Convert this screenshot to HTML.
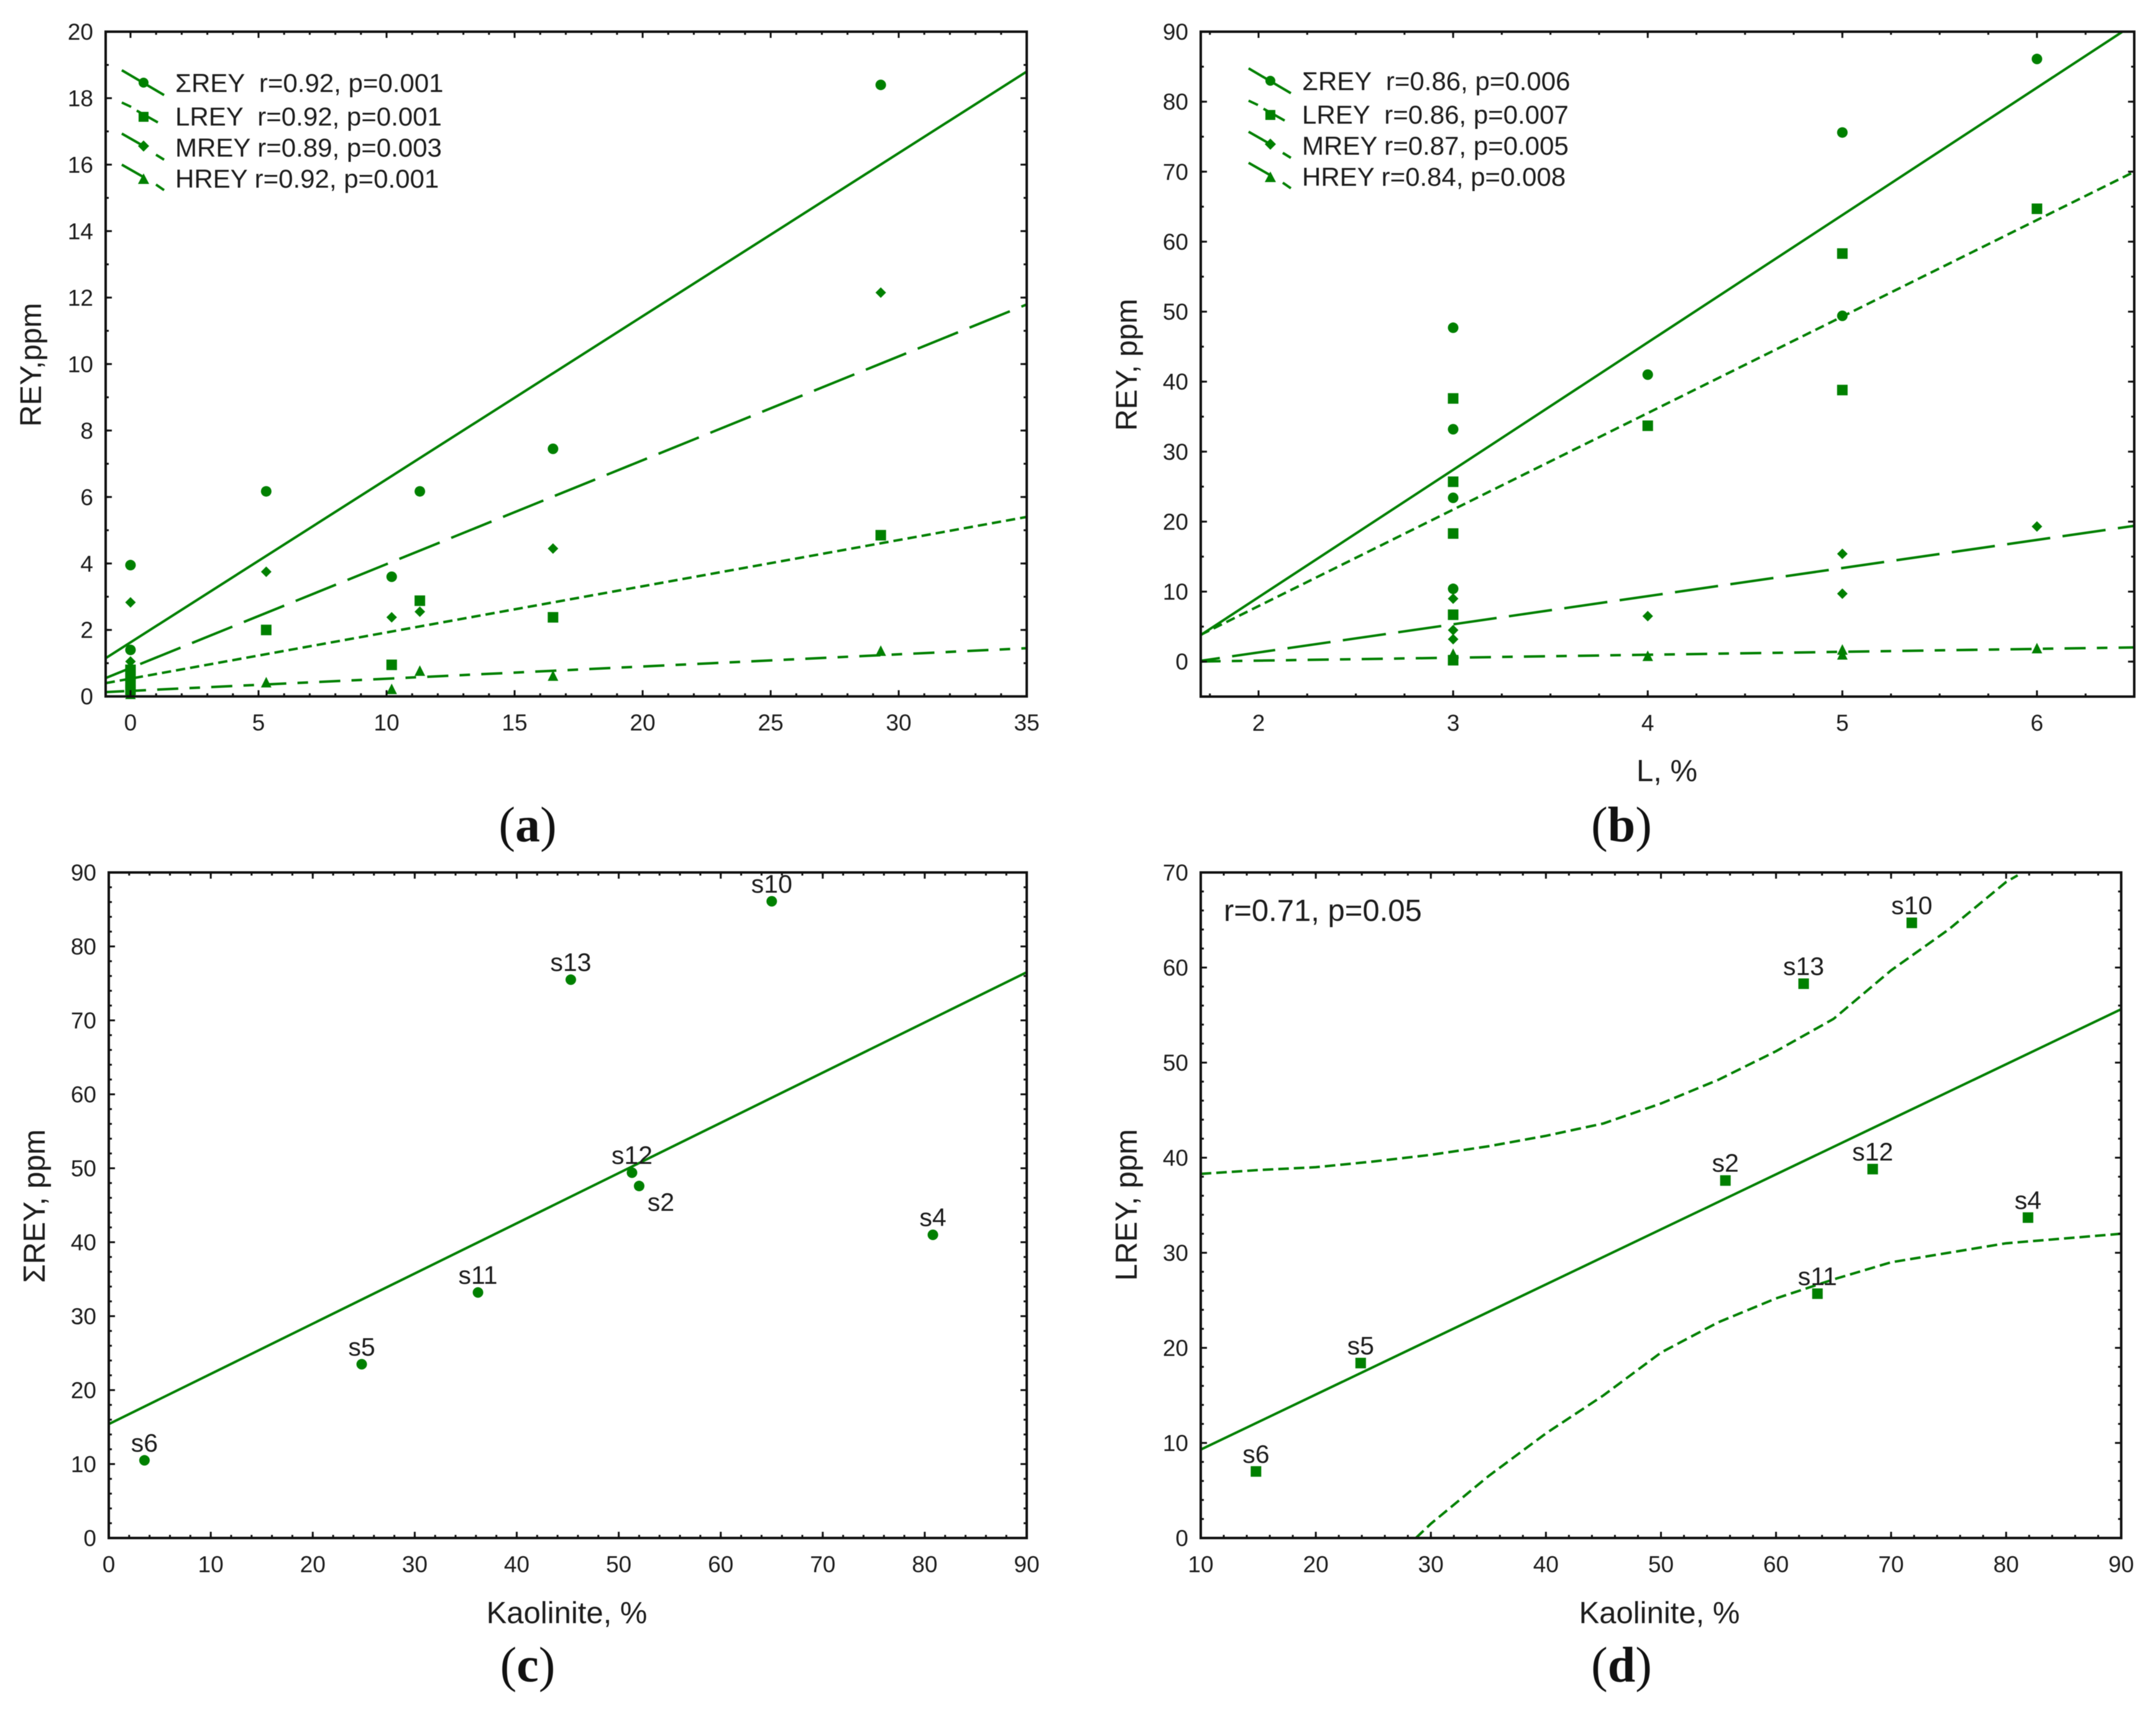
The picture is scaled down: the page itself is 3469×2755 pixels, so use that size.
<!DOCTYPE html>
<html lang="en">
<head>
<meta charset="utf-8">
<title>REY correlation charts</title>
<style>
html,body{margin:0;padding:0;background:#fff;width:3469px;height:2755px;overflow:hidden}
svg{display:block;filter:blur(0.6px)}
text{font-family:"Liberation Sans",sans-serif;fill:#1c1c1c;white-space:pre}
.tick{font-size:37px}
.title{font-size:49px}
.ytitle{font-size:48px}
.leg{font-size:42px}
.sample{font-size:41px}
.cap{font-family:"Liberation Serif",serif;font-size:80px;fill:#111;text-anchor:middle}
.cap .b{font-weight:bold}
.g{stroke:#008000;stroke-width:4;fill:none}
.m{fill:#008000;stroke:none}
</style>
</head>
<body>
<svg id="figure" xmlns="http://www.w3.org/2000/svg" width="3469" height="2755" viewBox="0 0 3469 2755">
<rect x="0" y="0" width="3469" height="2755" fill="#fff"/>

<g id="panel-a"></g>
<g id="panel-b"></g>
<g id="panel-c"></g>
<g id="panel-d"></g>

<rect x="1673" y="1130" width="30" height="60" fill="#fff"/>
<rect x="1673" y="2490" width="30" height="60" fill="#fff"/>

<text class="ytitle" text-anchor="middle" transform="translate(66,587) rotate(-90)">REY,ppm</text>
<text class="ytitle" text-anchor="middle" transform="translate(1829,587) rotate(-90)">REY, ppm</text>
<text class="title" text-anchor="middle" x="2682" y="1257">L, %</text>
<text class="ytitle" text-anchor="middle" style="font-size:49px" transform="translate(72,1941) rotate(-90)">ΣREY, ppm</text>
<text class="title" text-anchor="middle" x="912" y="2612">Kaolinite, %</text>
<text class="ytitle" text-anchor="middle" style="font-size:49px" transform="translate(1829,1939) rotate(-90)">LREY, ppm</text>
<text class="title" text-anchor="middle" x="2670" y="2612">Kaolinite, %</text>

<g id="legend-a">
  <g>
    <line class="g" x1="196" y1="113" x2="264" y2="153"/>
    <circle class="m" cx="231" cy="133" r="8"/>
    <text class="leg" x="282" y="148">ΣREY  r=0.92, p=0.001</text>
  </g>
  <g>
    <line class="g" x1="196" y1="165" x2="211" y2="172"/>
    <line class="g" x1="220" y1="178" x2="254" y2="197"/>
    <rect class="m" x="223" y="180" width="16" height="16"/>
    <text class="leg" x="282" y="202">LREY  r=0.92, p=0.001</text>
  </g>
  <g>
    <line class="g" x1="196" y1="215" x2="231" y2="235"/>
    <line class="g" x1="251" y1="249" x2="264" y2="257"/>
    <polygon class="m" points="231,226 240,235 231,244 222,235"/>
    <text class="leg" x="282" y="252">MREY r=0.89, p=0.003</text>
  </g>
  <g>
    <line class="g" x1="196" y1="265" x2="231" y2="285"/>
    <line class="g" x1="251" y1="297" x2="264" y2="306"/>
    <polygon class="m" points="231,279 240,296 222,296"/>
    <text class="leg" x="282" y="302">HREY r=0.92, p=0.001</text>
  </g>
</g>

<g id="legend-b" transform="translate(1813,-3)">
  <g>
    <line class="g" x1="196" y1="113" x2="264" y2="153"/>
    <circle class="m" cx="231" cy="133" r="8"/>
    <text class="leg" x="282" y="148">ΣREY  r=0.86, p=0.006</text>
  </g>
  <g>
    <line class="g" x1="196" y1="165" x2="211" y2="172"/>
    <line class="g" x1="220" y1="178" x2="254" y2="197"/>
    <rect class="m" x="223" y="180" width="16" height="16"/>
    <text class="leg" x="282" y="202">LREY  r=0.86, p=0.007</text>
  </g>
  <g>
    <line class="g" x1="196" y1="215" x2="231" y2="235"/>
    <line class="g" x1="251" y1="249" x2="264" y2="257"/>
    <polygon class="m" points="231,226 240,235 231,244 222,235"/>
    <text class="leg" x="282" y="252">MREY r=0.87, p=0.005</text>
  </g>
  <g>
    <line class="g" x1="196" y1="265" x2="231" y2="285"/>
    <line class="g" x1="251" y1="297" x2="264" y2="306"/>
    <polygon class="m" points="231,279 240,296 222,296"/>
    <text class="leg" x="282" y="302">HREY r=0.84, p=0.008</text>
  </g>
</g>

<text x="1969" y="1482" style="font-size:49px">r=0.71, p=0.05</text>

<text class="cap" x="849" y="1354">(<tspan class="b">a</tspan>)</text>
<text class="cap" x="2609" y="1354">(<tspan class="b">b</tspan>)</text>
<text class="cap" x="849" y="2706">(<tspan class="b">c</tspan>)</text>
<text class="cap" x="2609" y="2706">(<tspan class="b">d</tspan>)</text>
</svg>

<script>
// ---- Panel (a): REY vs x variable ----
const aXTicks = [0, 5, 10, 15, 20, 25, 30, 35];
const aYTicks = [0, 2, 4, 6, 8, 10, 12, 14, 16, 18, 20];
const aSumX = [0, 0, 5.3, 10.2, 11.3, 16.5, 29.3];
const aSumY = [3.95, 1.4, 6.17, 3.6, 6.17, 7.45, 18.4];
const aLreyX = [0, 0, 0, 0, 5.3, 10.2, 11.3, 16.5, 29.3];
const aLreyY = [0.8, 0.6, 0.4, 0.2, 2.0, 0.95, 2.88, 2.38, 4.85];
const aMreyX = [0, 0, 0, 5.3, 10.2, 11.3, 16.5, 29.3];
const aMreyY = [2.83, 1.05, 0.5, 3.75, 2.38, 2.55, 4.45, 12.15];
const aHreyX = [0, 0, 5.3, 10.2, 11.3, 16.5, 29.3];
const aHreyY = [0.1, 0.05, 0.4, 0.2, 0.75, 0.6, 1.35];
const aSumFit = [1.626, 0.4907];
const aLreyFit = [0.535, 0.139];
const aMreyFit = [0.856, 0.3125];
const aHreyFit = [0.166, 0.0367];

// ---- Panel (b): REY vs L ----
const bXTicks = [2, 3, 4, 5, 6];
const bYTicks = [0, 10, 20, 30, 40, 50, 60, 70, 80, 90];
const bSumX = [3, 3, 3, 3, 4, 5, 5, 6];
const bSumY = [47.7, 33.2, 23.4, 10.4, 41, 75.6, 49.4, 86.1];
const bLreyX = [3, 3, 3, 3, 3, 4, 5, 5, 6];
const bLreyY = [37.6, 25.7, 18.3, 6.7, 0.2, 33.7, 58.3, 38.8, 64.7];
const bMreyX = [3, 3, 3, 4, 5, 5, 6];
const bMreyY = [9, 4.5, 3.2, 6.5, 15.4, 9.7, 19.3];
const bHreyX = [3, 3, 4, 5, 5, 6];
const bHreyY = [1, 0.3, 0.7, 1.6, 0.9, 1.8];
const bSumFit = [-27.2, 18.2];
const bLreyFit = [-19.65, 13.79];
const bMreyFit = [-6.73, 4.02];
const bHreyFit = [-0.7, 0.42];

// ---- Panel (c): sum REY vs kaolinite ----
const cXTicks = [0, 10, 20, 30, 40, 50, 60, 70, 80, 90];
const cYTicks = [0, 10, 20, 30, 40, 50, 60, 70, 80, 90];
const cSamples = ["s10", "s13", "s12", "s2", "s4", "s11", "s5", "s6"];
const cKaolinite = [65, 45.3, 51.3, 52, 80.8, 36.2, 24.8, 3.5];
const cSumRey = [86.1, 75.5, 49.4, 47.6, 41, 33.2, 23.5, 10.5];
const cFit = [15.4, 0.679];

// ---- Panel (d): LREY vs kaolinite ----
const dXTicks = [10, 20, 30, 40, 50, 60, 70, 80, 90];
const dYTicks = [0, 10, 20, 30, 40, 50, 60, 70];
const dSamples = ["s10", "s13", "s2", "s12", "s4", "s11", "s5", "s6"];
const dKaolinite = [71.8, 62.4, 55.6, 68.4, 81.9, 63.6, 23.9, 14.8];
const dLrey = [64.7, 58.3, 37.6, 38.8, 33.7, 25.7, 18.4, 7];
const dFit = [3.51, 0.579];
const dUpperX = [10, 15, 20, 25, 30, 35, 40, 45, 50, 55, 60, 65, 70, 75, 80, 81];
const dUpperY = [38.3, 38.7, 39, 39.6, 40.3, 41.2, 42.3, 43.6, 45.7, 48.2, 51.2, 54.6, 59.7, 64, 69, 69.7];
const dLowerX = [28.7, 30, 35, 40, 45, 50, 55, 60, 65, 70, 75, 80, 85, 90];
const dLowerY = [0, 1.5, 6.5, 11, 15, 19.5, 22.7, 25.2, 27.2, 29, 30, 31, 31.5, 32];

const SVGNS = "http://www.w3.org/2000/svg";
const GREEN = "#008000";
const AXIS = "#111";
const LINE_W = 4;

function mk(parent, tag, attrs) {
  const el = document.createElementNS(SVGNS, tag);
  for (const k in attrs) el.setAttribute(k, attrs[k]);
  parent.appendChild(el);
  return el;
}
function scale(d0, d1, r0, r1) {
  return function (v) { return r0 + (v - d0) * (r1 - r0) / (d1 - d0); };
}

function drawAxes(g, box, x, y, xTicks, yTicks, xMinor, yMinor, labelRight) {
  const L = box.l, R = box.r, T = box.t, B = box.b;
  const frame = mk(g, "rect", { x: L, y: T, width: R - L, height: B - T, fill: "none", stroke: AXIS, "stroke-width": 4 });
  
  

  function tickMark(x1, y1, x2, y2, w) {
    const t = mk(g, "line", { x1: x1, y1: y1, x2: x2, y2: y2, stroke: AXIS, "stroke-width": w });
    
    
  }
  // minor ticks
  for (let v = x.d0 + ((xMinor.base - x.d0) % xMinor.step + xMinor.step) % xMinor.step; v <= x.d1 + 1e-6; v += xMinor.step) {
    const px = x(v);
    if (px <= L + 1 || px >= R - 1) continue;
    tickMark(px, B, px, B - 5, 3);
    tickMark(px, T, px, T + 5, 3);
  }
  for (let v = y.d0 + ((yMinor.base - y.d0) % yMinor.step + yMinor.step) % yMinor.step; v <= y.d1 + 1e-6; v += yMinor.step) {
    const py = y(v);
    if (py <= T + 1 || py >= B - 1) continue;
    tickMark(L, py, L + 5, py, 3);
    tickMark(R, py, R - 5, py, 3);
  }
  // major ticks + labels
  xTicks.forEach(function (v) {
    const px = x(v);
    tickMark(px, B, px, B - 10, 3);
    tickMark(px, T, px, T + 10, 3);
    const t = mk(g, "text", { x: px, y: B + 55, class: "tick", "text-anchor": "middle" });
    
    
    t.textContent = String(v);
  });
  yTicks.forEach(function (v) {
    const py = y(v);
    tickMark(L, py, L + 10, py, 3);
    tickMark(R, py, R - 10, py, 3);
    const t = mk(g, "text", { x: labelRight, y: py + 13, class: "tick", "text-anchor": "end" });
    
    
    t.textContent = String(v);
  });
}

function drawFit(g, clipId, x, y, fit, dash, offset, name) {
  const ln = mk(g, "line", {
    x1: x(x.d0), y1: y(fit[0] + fit[1] * x.d0),
    x2: x(x.d1), y2: y(fit[0] + fit[1] * x.d1),
    stroke: GREEN, "stroke-width": LINE_W, "clip-path": "url(#" + clipId + ")"
  });
  if (dash) { ln.setAttribute("stroke-dasharray", dash); ln.setAttribute("stroke-dashoffset", offset); }
  
  
}

function drawCurve(g, clipId, x, y, xs, ys, dash, name) {
  const pts = xs.map(function (v, i) { return x(v) + "," + y(ys[i]); }).join(" ");
  const pl = mk(g, "polyline", {
    points: pts, fill: "none", stroke: GREEN, "stroke-width": LINE_W,
    "stroke-dasharray": dash, "clip-path": "url(#" + clipId + ")"
  });
  
  
}

function marker(g, shape, px, py, name) {
  let el;
  if (shape === "circle") {
    el = mk(g, "circle", { cx: px, cy: py, r: 8.5, fill: GREEN });
  } else if (shape === "square") {
    el = mk(g, "rect", { x: px - 8.5, y: py - 8.5, width: 17, height: 17, fill: GREEN });
  } else if (shape === "diamond") {
    el = mk(g, "polygon", { points: [px, py - 8.5, px + 8.5, py, px, py + 8.5, px - 8.5, py].join(","), fill: GREEN });
  } else {
    el = mk(g, "polygon", { points: [px, py - 10, px + 8.5, py + 7, px - 8.5, py + 7].join(","), fill: GREEN });
  }
  
  
}

function drawSeries(g, x, y, xs, ys, shape, name) {
  xs.forEach(function (v, i) { marker(g, shape, x(v), y(ys[i]), name); });
}

function sampleLabel(g, px, py, text, below) {
  const t = mk(g, "text", {
    x: below ? px + 35 : px, y: below ? py + 40 : py - 14,
    class: "sample", "text-anchor": "middle"
  });
  
  
  t.textContent = text;
}

function axis(d0, d1, r0, r1) {
  const f = scale(d0, d1, r0, r1);
  f.d0 = d0; f.d1 = d1;
  return f;
}
function clip(svg, id, box) {
  const defs = mk(svg, "defs", {});
  const c = mk(defs, "clipPath", { id: id });
  mk(c, "rect", { x: box.l, y: box.t, width: box.r - box.l, height: box.b - box.t });
}

const svgRoot = document.getElementById("figure");
const DASH_L = "15 8";
const DASH_M = "70 20";
const DASH_H = "34 18 17 18";

// Panel a
(function () {
  const g = document.getElementById("panel-a");
  const box = { l: 170, r: 1652, t: 51, b: 1120.7 };
  clip(svgRoot, "clip-a", box);
  const x = axis(-0.97, 35, box.l, box.r);
  const y = axis(0, 20, box.b, box.t);
  drawFit(g, "clip-a", x, y, aSumFit, null, 0, "sum-rey-fit-line");
  drawFit(g, "clip-a", x, y, aLreyFit, DASH_L, 0, "lrey-fit-line");
  drawFit(g, "clip-a", x, y, aMreyFit, DASH_M, 30, "mrey-fit-line");
  drawFit(g, "clip-a", x, y, aHreyFit, DASH_H, 4, "hrey-fit-line");
  drawSeries(g, x, y, aSumX, aSumY, "circle", "sum-rey-point");
  drawSeries(g, x, y, aLreyX, aLreyY, "square", "lrey-point");
  drawSeries(g, x, y, aMreyX, aMreyY, "diamond", "mrey-point");
  drawSeries(g, x, y, aHreyX, aHreyY, "triangle", "hrey-point");
  drawAxes(g, box, x, y, aXTicks, aYTicks, { base: 0, step: 1 }, { base: 0, step: 1 }, 150);
})();

// Panel b
(function () {
  const g = document.getElementById("panel-b");
  const box = { l: 1932, r: 3434, t: 51, b: 1121 };
  clip(svgRoot, "clip-b", box);
  const x = axis(1.703, 6.5, box.l, box.r);
  const y = axis(-5, 90, box.b, box.t);
  drawFit(g, "clip-b", x, y, bSumFit, null, 0, "sum-rey-fit-line");
  drawFit(g, "clip-b", x, y, bLreyFit, DASH_L, 0, "lrey-fit-line");
  drawFit(g, "clip-b", x, y, bMreyFit, DASH_M, 39, "mrey-fit-line");
  drawFit(g, "clip-b", x, y, bHreyFit, DASH_H, 2, "hrey-fit-line");
  drawSeries(g, x, y, bSumX, bSumY, "circle", "sum-rey-point");
  drawSeries(g, x, y, bLreyX, bLreyY, "square", "lrey-point");
  drawSeries(g, x, y, bMreyX, bMreyY, "diamond", "mrey-point");
  drawSeries(g, x, y, bHreyX, bHreyY, "triangle", "hrey-point");
  drawAxes(g, box, x, y, bXTicks, bYTicks, { base: 2, step: 0.25 }, { base: 0, step: 5 }, 1912);
})();

// Panel c
(function () {
  const g = document.getElementById("panel-c");
  const box = { l: 175, r: 1652, t: 1404, b: 2475 };
  clip(svgRoot, "clip-c", box);
  const x = axis(0, 90, box.l, box.r);
  const y = axis(0, 90, box.b, box.t);
  drawFit(g, "clip-c", x, y, cFit, null, 0, "fit-line");
  drawSeries(g, x, y, cKaolinite, cSumRey, "circle", "sample-point");
  cSamples.forEach(function (s, i) {
    sampleLabel(g, x(cKaolinite[i]), y(cSumRey[i]), s, s === "s2");
  });
  drawAxes(g, box, x, y, cXTicks, cYTicks, { base: 0, step: 2 }, { base: 0, step: 2 }, 155);
})();

// Panel d
(function () {
  const g = document.getElementById("panel-d");
  const box = { l: 1932, r: 3413, t: 1404, b: 2475 };
  clip(svgRoot, "clip-d", box);
  const x = axis(10, 90, box.l, box.r);
  const y = axis(0, 70, box.b, box.t);
  drawFit(g, "clip-d", x, y, dFit, null, 0, "fit-line");
  drawCurve(g, "clip-d", x, y, dUpperX, dUpperY, "17 8", "upper-confidence-band");
  drawCurve(g, "clip-d", x, y, dLowerX, dLowerY, "17 8", "lower-confidence-band");
  drawSeries(g, x, y, dKaolinite, dLrey, "square", "sample-point");
  dSamples.forEach(function (s, i) {
    sampleLabel(g, x(dKaolinite[i]), y(dLrey[i]), s, false);
  });
  drawAxes(g, box, x, y, dXTicks, dYTicks, { base: 10, step: 2 }, { base: 0, step: 2 }, 1912);
})();
</script>
</body>
</html>
